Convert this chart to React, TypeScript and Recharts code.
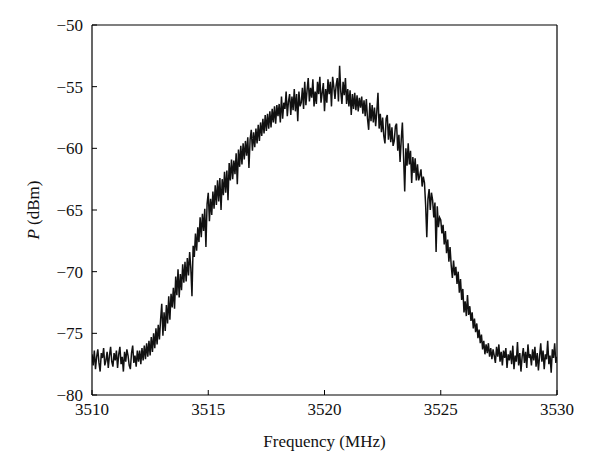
import { Label, Line, LineChart, ReferenceLine, XAxis, YAxis } from "recharts";

// spectrum sampled every 0.05 MHz from 3510 to 3530 MHz
const freqStart = 3510;
const freqStep = 0.05;

const freqTicks = [3510, 3515, 3520, 3525, 3530];
const powerTicks = [-80, -75, -70, -65, -60, -55, -50];

// one row per MHz (20 samples each), values in dBm
const powerDbm = [
  // 3510
  -76.7, -77.6, -76.4, -77.9, -76.9, -76.3, -77.4, -78.1, -76.6, -77.0, -76.2, -77.6, -77.2, -76.5, -77.8, -76.8, -76.1, -77.3, -77.7, -76.6,
  // 3511
  -77.2, -76.4, -77.8, -76.7, -76.1, -77.5, -76.9, -78.1, -76.5, -77.3, -76.3, -76.8, -77.6, -77.9, -76.6, -76.0, -77.4, -76.8, -77.7, -76.4,
  // 3512
  -77.3, -76.4, -77.5, -76.2, -77.2, -76.0, -77.1, -75.8, -76.9, -75.6, -76.8, -75.3, -76.5, -75.0, -76.2, -74.6, -75.9, -74.3, -75.5, -73.9,
  // 3513
  -72.6, -75.2, -73.3, -74.8, -72.7, -74.2, -72.0, -73.9, -71.8, -72.9, -71.3, -73.0, -70.4, -71.9, -69.8, -72.1, -70.2, -71.5, -69.4, -70.9,
  // 3514
  -69.2, -70.8, -68.9, -70.3, -68.4, -69.7, -72.0, -67.9, -68.8, -66.9, -68.3, -66.4, -67.6, -65.6, -67.2, -65.3, -66.7, -64.9, -68.0, -64.5,
  // 3515
  -63.6, -65.9, -64.1, -65.4, -63.5, -64.9, -63.0, -64.6, -62.6, -64.3, -62.4, -65.0, -62.5, -63.8, -61.9, -63.6, -61.8, -64.2, -61.2, -62.6,
  // 3516
  -60.9, -62.5, -61.0, -62.1, -60.4, -62.9, -60.1, -61.5, -59.8, -61.3, -59.6, -60.9, -59.4, -60.6, -59.1, -61.6, -59.3, -58.5, -60.2, -58.7,
  // 3517
  -59.9, -58.4, -59.6, -58.1, -59.4, -57.9, -59.0, -57.6, -58.8, -57.3, -58.6, -57.2, -58.4, -57.0, -58.3, -56.8, -57.9, -56.6, -58.0, -56.5,
  // 3518
  -57.4, -56.4, -57.9, -55.8, -57.6, -56.3, -56.8, -55.4, -57.4, -56.2, -55.6, -57.3, -55.8, -56.9, -55.2, -57.0, -55.6, -57.8, -55.4, -56.6,
  // 3519
  -56.3, -55.1, -56.8, -54.6, -56.5, -55.3, -54.3, -56.2, -55.1, -55.9, -54.4, -56.6, -55.4, -56.4, -54.6, -55.6, -54.2, -56.3, -55.5, -54.7,
  // 3520
  -57.0, -55.2, -56.3, -54.4, -55.6, -54.6, -56.6, -54.2, -55.0, -56.0, -54.9, -54.3, -56.2, -53.3, -55.4, -56.4, -54.6, -55.7, -54.3, -56.4,
  // 3521
  -55.2, -56.6, -55.3, -57.3, -55.6, -56.8, -55.5, -56.9, -55.7, -57.0, -55.9, -56.7, -55.8, -57.2, -56.1, -57.4, -56.0, -57.6, -58.5, -56.3,
  // 3522
  -57.8, -56.5, -57.9, -56.7, -58.2, -57.0, -55.5, -58.4, -57.2, -58.7, -57.5, -59.0, -59.6, -57.6, -57.3, -59.3, -58.0, -59.5, -58.3, -59.8,
  // 3523
  -59.4, -58.2, -58.0, -60.2, -58.9, -61.1, -59.3, -57.9, -60.6, -63.5, -60.0, -61.4, -59.6, -61.3, -60.2, -62.8, -60.7, -62.0, -60.8, -62.6,
  // 3524
  -61.3, -62.6, -62.2, -61.7, -63.1, -62.3, -62.8, -64.6, -67.2, -64.1, -63.3, -65.0, -63.6, -64.2, -65.6, -64.4, -68.4, -64.7, -66.4, -65.6,
  // 3525
  -65.8, -66.9, -66.2, -67.8, -66.7, -68.5, -67.4, -69.2, -68.0, -69.5, -70.5, -69.1, -70.3, -69.6, -71.0, -70.0, -71.7, -70.6, -72.3, -71.4,
  // 3526
  -73.3, -72.4, -73.6, -71.9, -73.5, -72.8, -74.0, -73.3, -74.6, -73.8, -74.9, -74.2, -75.4, -74.7, -75.8, -75.1, -76.3, -75.6, -76.7, -75.9,
  // 3527
  -76.6, -75.8, -76.9, -76.2, -77.1, -76.3, -76.8, -77.4, -76.1, -76.9, -75.9, -77.3, -76.5, -77.6, -76.4, -77.0, -76.2, -77.8, -76.7, -77.2,
  // 3528
  -76.4, -77.5, -76.0, -77.9, -76.8, -77.3, -75.7, -77.6, -76.6, -78.1, -76.9, -76.2, -77.4, -76.5, -77.8, -75.9, -77.0, -76.7, -77.6, -76.3,
  // 3529
  -77.2, -76.1, -77.7, -76.6, -78.0, -76.9, -75.8, -77.3, -76.4, -77.9, -76.7, -77.1, -75.6, -77.5, -76.8, -78.2, -76.3, -77.0, -75.8, -77.4,
  // 3530
  -76.9,
];

const chartData = powerDbm.map((p, i) => ({ f: freqStart + i * freqStep, p }));

const font = "'Liberation Serif', 'DejaVu Serif', serif";

function XTick({ x, y, payload }: any) {
  return (
    <g>
      <line x1={x} y1={y} x2={x} y2={y - 5} stroke="#000" strokeWidth={1} />
      <text x={x} y={y + 20} textAnchor="middle" fontSize={17} fontFamily={font} fill="#111">
        {payload.value}
      </text>
    </g>
  );
}

function YTick({ x, y, payload }: any) {
  return (
    <g>
      <line x1={x} y1={y} x2={x + 5} y2={y} stroke="#000" strokeWidth={1} />
      <text x={x - 9} y={y + 6} textAnchor="end" fontSize={17} fontFamily={font} fill="#111">
        {"\u2212" + Math.abs(payload.value)}
      </text>
    </g>
  );
}

export default function App() {
  return (
    <div style={{ width: 592, height: 462, background: "#fff" }}>
      <LineChart width={592} height={462} data={chartData} margin={{ top: 17, right: 43, bottom: 25, left: 24 }}>
        <XAxis
          dataKey="f"
          type="number"
          domain={[3510, 3530]}
          ticks={freqTicks}
          tickSize={0}
          tickMargin={0}
          tickLine={false}
          tick={<XTick />}
          axisLine={{ stroke: "#000", strokeWidth: 1.2 }}
          height={50}
          allowDataOverflow
        >
          <Label
            content={({ viewBox }: any) => (
              <text
                x={viewBox.x + viewBox.width / 2}
                y={viewBox.y + 52}
                textAnchor="middle"
                fontSize={17}
                fontFamily={font}
                fill="#111"
              >
                Frequency (MHz)
              </text>
            )}
          />
        </XAxis>
        <YAxis
          type="number"
          domain={[-80, -50]}
          ticks={powerTicks}
          tickSize={0}
          tickMargin={0}
          tickLine={false}
          tick={<YTick />}
          axisLine={{ stroke: "#000", strokeWidth: 1.2 }}
          width={60}
          allowDataOverflow
        >
          <Label
            content={({ viewBox }: any) => {
              const cx = viewBox.x + 1;
              const cy = viewBox.y + viewBox.height / 2;
              return (
                <text
                  x={cx}
                  y={cy}
                  transform={`rotate(-90, ${cx}, ${cy})`}
                  textAnchor="middle"
                  dominantBaseline="central"
                  fontSize={17}
                  fontFamily={font}
                  fill="#111"
                >
                  <tspan fontStyle="italic">P</tspan>
                  <tspan> (dBm)</tspan>
                </text>
              );
            }}
          />
        </YAxis>
        <ReferenceLine y={-50} stroke="#000" strokeWidth={1.2} />
        <ReferenceLine x={3530} stroke="#000" strokeWidth={1.2} />
        <Line
          type="linear"
          dataKey="p"
          stroke="#111"
          strokeWidth={1.5}
          dot={false}
          isAnimationActive={false}
        />
      </LineChart>
    </div>
  );
}
